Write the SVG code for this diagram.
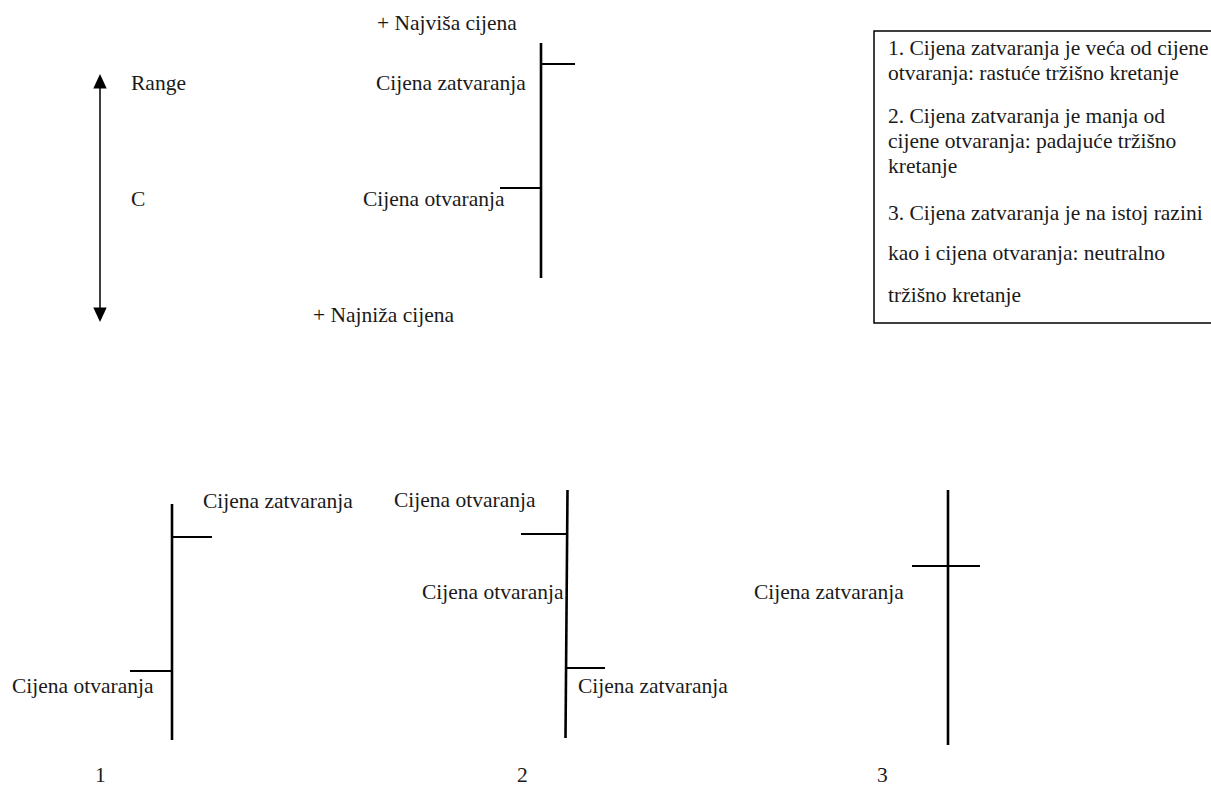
<svg xmlns="http://www.w3.org/2000/svg" width="1211" height="787" viewBox="0 0 1211 787">
<style>
text{font-family:"Liberation Serif","Times New Roman","DejaVu Serif",serif;font-size:21.5px;fill:#1a1a1a}
.wick{stroke:#000;stroke-width:2.6;fill:none}
.tick{stroke:#000;stroke-width:2;fill:none}
.box{stroke:#000;stroke-width:1.5;fill:#fff}
</style>
<rect width="1211" height="787" fill="#fff"/>
<g id="connectors">
<line x1="100" y1="88" x2="100" y2="308" stroke="#000" stroke-width="1.5"/>
<path d="M100,74 L93.3,88.5 L106.7,88.5 Z" fill="#000"/>
<path d="M100,322 L93.3,307.5 L106.7,307.5 Z" fill="#000"/>
</g>
<g id="range-labels">
<text x="131" y="90">Range</text>
<text x="131" y="206">C</text>
</g>
<g id="candle-top">
<line class="wick" x1="541" y1="43" x2="541" y2="278"/>
<line class="tick" x1="541" y1="64" x2="575" y2="64"/>
<line class="tick" x1="500" y1="188" x2="541" y2="188"/>
<text x="377" y="30">+ Najviša cijena</text>
<text x="376" y="90">Cijena zatvaranja</text>
<text x="363" y="206">Cijena otvaranja</text>
<text x="313" y="322">+ Najniža cijena</text>
</g>
<g id="legend">
<rect class="box" x="874" y="31" width="340" height="292"/>
<text x="888" y="55">1. Cijena zatvaranja je veća od cijene</text>
<text x="888" y="80">otvaranja: rastuće tržišno kretanje</text>
<text x="888" y="123">2. Cijena zatvaranja je manja od</text>
<text x="888" y="148">cijene otvaranja: padajuće tržišno</text>
<text x="888" y="173">kretanje</text>
<text x="888" y="220">3. Cijena zatvaranja je na istoj razini</text>
<text x="888" y="260">kao i cijena otvaranja: neutralno</text>
<text x="888" y="302">tržišno kretanje</text>
</g>
<g id="candle-1">
<line class="wick" x1="172" y1="504" x2="172" y2="740"/>
<line class="tick" x1="172" y1="537" x2="212" y2="537"/>
<line class="tick" x1="130" y1="671" x2="172" y2="671"/>
<text x="203" y="508">Cijena zatvaranja</text>
<text x="12" y="693">Cijena otvaranja</text>
<text x="95" y="782">1</text>
</g>
<g id="candle-2">
<line class="wick" x1="567.5" y1="490" x2="565.5" y2="738"/>
<line class="tick" x1="521" y1="534" x2="566" y2="534"/>
<line class="tick" x1="566" y1="668" x2="605" y2="668"/>
<text x="394" y="507">Cijena otvaranja</text>
<text x="422" y="599">Cijena otvaranja</text>
<text x="578" y="693">Cijena zatvaranja</text>
<text x="517" y="782">2</text>
</g>
<g id="candle-3">
<line class="wick" x1="948" y1="490" x2="948" y2="745"/>
<line class="tick" x1="912" y1="566" x2="980" y2="566"/>
<text x="754" y="599">Cijena zatvaranja</text>
<text x="877" y="782">3</text>
</g>
</svg>
